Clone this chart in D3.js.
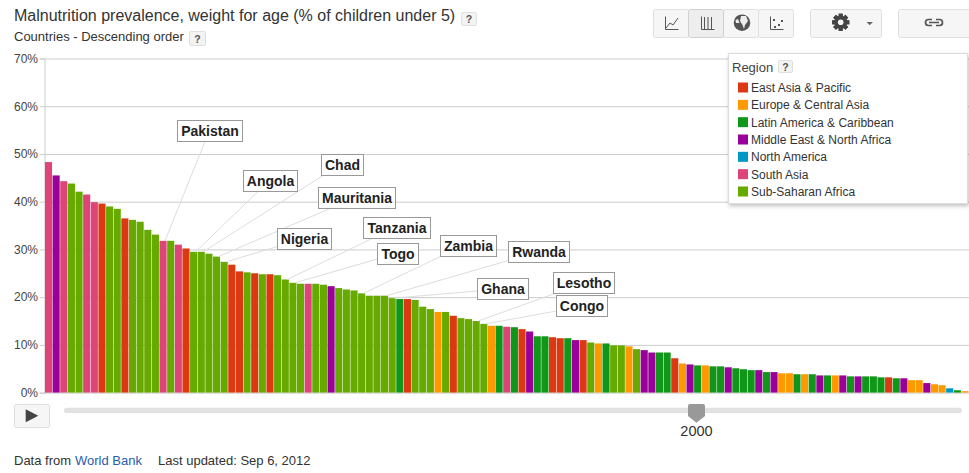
<!DOCTYPE html>
<html><head><meta charset="utf-8">
<script src="https://cdnjs.cloudflare.com/ajax/libs/d3/7.8.5/d3.min.js"></script>
<style>
html,body{margin:0;padding:0;background:#fff;overflow:hidden}
svg{display:block;font-family:"Liberation Sans",Arial,sans-serif}
</style></head><body>
<svg id="c" width="969" height="473"></svg>
<script>
const title = "Malnutrition prevalence, weight for age (% of children under 5)";
const subtitle = "Countries - Descending order";
const regionNames = ["East Asia & Pacific","Europe & Central Asia","Latin America & Caribbean","Middle East & North Africa","North America","South Asia","Sub-Saharan Africa"];
const regionColors = ["#dc3912","#ff9900","#109618","#990099","#0099c6","#dd4477","#66aa00"];
const yTicks = [0,10,20,30,40,50,60,70];
const values = [48.3,45.5,44.3,43.8,42.1,41.5,39.9,39.6,39.0,38.5,36.5,36.2,35.8,34.1,33.1,31.8,31.8,31.0,30.2,29.5,29.5,29.1,28.5,27.4,26.8,25.4,25.2,25.0,24.8,24.8,
 24.6,23.7,23.0,22.8,22.8,22.8,22.6,22.3,21.9,21.6,21.4,20.8,20.3,20.3,20.3,19.8,19.6,19.6,19.4,18.0,17.5,16.9,16.9,16.1,15.6,15.4,15.0,14.4,14.0,14.0,
 13.8,13.7,13.3,12.8,11.8,11.8,11.6,11.4,11.4,11.0,11.0,10.5,10.3,10.3,9.9,9.9,9.7,9.1,8.9,8.4,8.4,8.4,7.2,6.1,5.9,5.7,5.7,5.5,5.5,5.3,
 5.1,4.9,4.7,4.7,4.3,4.3,4.05,4.05,3.85,3.85,3.85,3.6,3.6,3.6,3.6,3.4,3.4,3.4,3.4,3.2,3.2,3.0,3.0,2.6,2.6,2.0,1.75,1.55,0.9,0.5,0.3];
const regions = [5,3,5,6,6,5,5,0,6,6,0,6,6,6,6,5,6,5,0,6,6,6,6,6,0,0,6,0,6,0,
 6,6,6,6,5,6,6,3,6,6,6,6,6,6,6,6,2,0,6,6,6,1,6,0,6,6,6,6,1,2,
 5,2,0,3,2,2,0,0,2,3,0,6,1,2,6,6,1,6,3,3,2,2,0,1,3,2,1,2,2,3,
 2,2,2,3,2,3,1,1,2,1,2,3,2,1,3,2,3,2,2,2,0,2,3,1,1,3,1,1,4,2,1];
const labelNames = ["Pakistan","Angola","Chad","Mauritania","Nigeria","Tanzania","Togo","Zambia","Rwanda","Ghana","Lesotho","Congo"];
const labelBars  = [15,19,20,22,23,31,32,41,44,45,56,57];
const footerLeft = "Data from", footerLink = "World Bank", footerRight = "Last updated: Sep 6, 2012";
const yearLabel = "2000";

// layout of the annotation boxes: [left, top, width, anchorX, anchorY]
const labelLayout = [[177.5,120.5,65,205,141.5],[243.5,170.5,54,258,191.5],[321.5,154.5,42,323,175.5],[318.5,187.5,77,330,208.5],
 [277.5,228.5,54,277.5,246.5],[363.5,217.5,67,372,238.5],[377.5,243.5,41,377.5,259],[440.5,235.5,56,440.5,256.5],
 [508.5,241.5,61,508.5,260.5],[477.5,278.5,51,477.5,291],[553.5,272.5,61,553.5,294],[556.5,295.5,51,556.5,311]];

const svg = d3.select("#c");
const x = d3.scaleBand().domain(d3.range(values.length)).range([44.8,968.7]).paddingInner(0.07).paddingOuter(0.02);
const y = d3.scaleLinear().domain([0,70]).range([392.6,58.5]);
const left = 44.5, right = 969;

// text headers
svg.append("text").attr("x",14).attr("y",21).attr("font-size",16).attr("fill","#333").text(title);
svg.append("text").attr("x",14).attr("y",41).attr("font-size",13).attr("fill","#333").text(subtitle);

function helpBtn(px,py,w,h){
  svg.append("rect").attr("x",px+.5).attr("y",py+.5).attr("width",w).attr("height",h).attr("rx",1.5)
     .attr("fill","#f3f3f3").attr("stroke","#e0e0e0");
  svg.append("text").attr("x",px+w/2+.5).attr("y",py+h/2+4.5).attr("text-anchor","middle").attr("font-size",10.5).attr("font-weight","bold").attr("fill","#555").text("?");
}
helpBtn(461,12,15,13); helpBtn(189,31,16,14);

// axes
const grid = svg.append("g").attr("transform",`translate(${left},0)`)
  .call(d3.axisLeft(y).tickValues(yTicks).tickSize(-(right-left)).tickFormat(""));
grid.selectAll("line").attr("stroke","#ccc");
grid.select(".domain").remove();
const ax = svg.append("g").attr("transform",`translate(${left},0)`)
  .call(d3.axisLeft(y).tickValues(yTicks).tickSize(5).tickPadding(1.5).tickFormat(d=>d+"%"));
ax.select(".domain").attr("stroke","#ccc");
ax.selectAll("line").attr("stroke","#ccc");
ax.selectAll("text").attr("font-size",12).attr("font-family","Liberation Sans").attr("fill","#444");

// bars
svg.append("g").selectAll("rect").data(values).join("rect")
  .attr("x",(d,i)=>x(i)).attr("width",x.bandwidth())
  .attr("y",d=>y(d)).attr("height",d=>y(0)-y(d))
  .attr("fill",(d,i)=>regionColors[regions[i]]);

// leader lines
svg.append("g").selectAll("line").data(labelNames).join("line")
  .attr("x1",(d,i)=>labelLayout[i][3]).attr("y1",(d,i)=>labelLayout[i][4])
  .attr("x2",(d,i)=>x(labelBars[i])+x.bandwidth()/2+2).attr("y2",(d,i)=>y(values[labelBars[i]]))
  .attr("stroke","#ddd").attr("stroke-width",1);

// label boxes
const lb = svg.append("g").selectAll("g").data(labelNames).join("g")
  .attr("transform",(d,i)=>`translate(${labelLayout[i][0]},${labelLayout[i][1]})`);
lb.append("rect").attr("width",(d,i)=>labelLayout[i][2]).attr("height",21)
  .attr("fill","#fff").attr("stroke","#999");
lb.append("text").attr("x",(d,i)=>labelLayout[i][2]/2).attr("y",15.5).attr("text-anchor","middle")
  .attr("font-size",14).attr("font-weight","bold").attr("fill","#222").text(d=>d);

// legend
svg.append("rect").attr("x",728.5).attr("y",53.5).attr("width",239).attr("height",150)
  .attr("fill","#fff").attr("stroke","#ddd").style("filter","drop-shadow(1px 2px 2px rgba(0,0,0,.25))");
svg.append("text").attr("x",732).attr("y",72).attr("font-size",13).attr("fill","#444").text("Region");
helpBtn(778,60,14,12);
const rowY = d3.scalePoint().domain(regionNames).range([82.5,186.5]);
const lg = svg.append("g").selectAll("g").data(regionNames).join("g")
  .attr("transform",d=>`translate(738,${rowY(d)})`);
lg.append("rect").attr("width",10).attr("height",10).attr("fill",(d,i)=>regionColors[i]);
lg.append("text").attr("x",13).attr("y",9.5).attr("font-size",12).attr("fill","#333").text(d=>d);

// toolbar
function btn(px,w,sel){
  svg.append("rect").attr("x",px+.5).attr("y",9.5).attr("width",w).attr("height",28).attr("rx",2)
    .attr("fill",sel?"#eeeeee":"#f6f6f6").attr("stroke",sel?"#d0d0d0":"#e0e0e0");
}
btn(653,35); btn(723,35); btn(758,35); btn(688,35,true); btn(810,71); btn(898,75);
const ic = svg.append("g").attr("fill","none").attr("stroke","#555").attr("stroke-width",1);
ic.append("path").attr("d","M665.5 16.5V29.5H678.5 M666 28L670 23L673 25L678 18");
ic.append("path").attr("d","M701.5 16.5V29.5H714.5 M704.5 17V29 M708 17V29 M711.5 17V29");
ic.append("path").attr("d","M770.5 16.5V29.5H783.5");
svg.append("g").attr("fill","#555").selectAll("rect").data([[773,19],[778,24],[781,20],[774,26]]).join("rect")
  .attr("x",d=>d[0]).attr("y",d=>d[1]).attr("width",2).attr("height",2);
svg.append("circle").attr("cx",742).attr("cy",22.7).attr("r",8.3).attr("fill","#555");
svg.append("path").attr("d","M741 16L746 16L748 21L745 25L744 29L742.5 25L740 21Z M735.5 20L738 19L739.5 23L736 23Z").attr("fill","#eee");
// gear
const gear = svg.append("g").attr("transform","translate(840.7,22.3)").attr("fill","#444");
gear.selectAll("rect").data(d3.range(8)).join("rect")
  .attr("x",-2).attr("y",-8.6).attr("width",4).attr("height",17.2).attr("transform",d=>`rotate(${d*22.5*2})`);
gear.append("circle").attr("r",6.5);
gear.append("circle").attr("r",2.8).attr("fill","#f6f6f6");
svg.append("path").attr("d","M866.5 22H873L869.7 25.3Z").attr("fill","#666");
// link
const lk = svg.append("g").attr("fill","none").attr("stroke","#555").attr("stroke-width",1.7);
lk.append("path").attr("d","M932 19.5H928.5A3 3 0 0 0 928.5 25.5H932 M936 19.5H939.5A3 3 0 0 1 939.5 25.5H936 M929 22.5H939");

// play control
svg.append("rect").attr("x",14.5).attr("y",404.5).attr("width",35).attr("height",23).attr("rx",2).attr("fill","#f6f6f6").attr("stroke","#ddd");
svg.append("path").attr("d","M25.7 409.3L38.3 415.8L25.7 422.3Z").attr("fill","#444");
svg.append("rect").attr("x",64).attr("y",407.7).attr("width",898).attr("height",5.4).attr("rx",2.7).attr("fill","#e2e2e2");
svg.append("path").attr("d","M688 406Q688 404 690 404H703Q705 404 705 406V416L696.5 422.7L688 416Z").attr("fill","#999");
svg.append("text").attr("x",696.5).attr("y",436).attr("text-anchor","middle").attr("font-size",14.5).attr("fill","#333").text(yearLabel);

// footer
svg.append("text").attr("x",14).attr("y",465).attr("font-size",13).attr("fill","#333").text(footerLeft);
svg.append("text").attr("x",75).attr("y",465).attr("font-size",13).attr("fill","#2a5db0").text(footerLink);
svg.append("text").attr("x",158).attr("y",465).attr("font-size",13).attr("fill","#333").text(footerRight);
</script></body></html>
